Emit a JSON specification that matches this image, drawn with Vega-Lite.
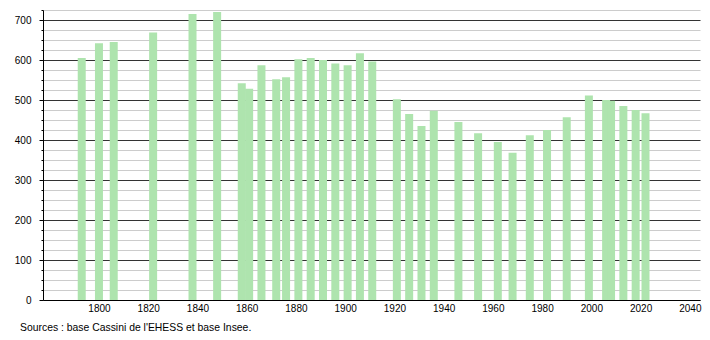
{
  "$schema": "https://vega.github.io/schema/vega-lite/v6.json",
  "width": 657,
  "height": 290,
  "autosize": {"type": "none"},
  "padding": {"left": 43, "top": 10, "right": 10, "bottom": 40},
  "background": "white",
  "config": {"view": {"stroke": null}, "font": "Liberation Sans"},
  "title": {
    "text": "Sources : base Cassini de l'EHESS et base Insee.",
    "orient": "bottom",
    "anchor": "start",
    "frame": "group",
    "dx": -23,
    "offset": 10,
    "fontSize": 10.4,
    "fontWeight": "normal",
    "color": "#000"
  },
  "data": {
    "values": [
      {"annee": 1793, "population": 605},
      {"annee": 1800, "population": 642},
      {"annee": 1806, "population": 645},
      {"annee": 1822, "population": 669},
      {"annee": 1838, "population": 715},
      {"annee": 1848, "population": 720},
      {"annee": 1858, "population": 542},
      {"annee": 1861, "population": 528},
      {"annee": 1866, "population": 587},
      {"annee": 1872, "population": 552},
      {"annee": 1876, "population": 557},
      {"annee": 1881, "population": 602},
      {"annee": 1886, "population": 605},
      {"annee": 1891, "population": 600},
      {"annee": 1896, "population": 591},
      {"annee": 1901, "population": 587},
      {"annee": 1906, "population": 617},
      {"annee": 1911, "population": 596},
      {"annee": 1921, "population": 502},
      {"annee": 1926, "population": 465},
      {"annee": 1931, "population": 435},
      {"annee": 1936, "population": 473},
      {"annee": 1946, "population": 445},
      {"annee": 1954, "population": 417},
      {"annee": 1962, "population": 395},
      {"annee": 1968, "population": 368},
      {"annee": 1975, "population": 412},
      {"annee": 1982, "population": 425},
      {"annee": 1990, "population": 457},
      {"annee": 1999, "population": 511},
      {"annee": 2006, "population": 500},
      {"annee": 2008, "population": 498},
      {"annee": 2013, "population": 485},
      {"annee": 2018, "population": 475},
      {"annee": 2022, "population": 467}
    ]
  },
  "mark": {"type": "bar", "width": 8, "color": "#aee4ae"},
  "encoding": {
    "x": {
      "field": "annee",
      "type": "quantitative",
      "scale": {"domain": [1779.3, 2042.1], "nice": false, "zero": false},
      "axis": {
        "values": [1800, 1820, 1840, 1860, 1880, 1900, 1920, 1940, 1960, 1980, 2000, 2020, 2040],
        "format": "d",
        "ticks": false,
        "grid": false,
        "labelPadding": 3,
        "labelFlush": false,
        "labelFontSize": 10,
        "labelColor": "#000",
        "domainColor": "#000",
        "title": null
      }
    },
    "y": {
      "field": "population",
      "type": "quantitative",
      "scale": {"domain": [0, 725], "nice": false},
      "axis": {
        "values": [0, 25, 50, 75, 100, 125, 150, 175, 200, 225, 250, 275, 300, 325, 350, 375, 400, 425, 450, 475, 500, 525, 550, 575, 600, 625, 650, 675, 700, 725],
        "labelExpr": "datum.value % 100 === 0 ? datum.label : ''",
        "grid": true,
        "gridColor": {"condition": {"test": "datum.value % 100 === 0", "value": "#333333"}, "value": "#cccccc"},
        "gridOpacity": 1,
        "tickSize": {"condition": {"test": "datum.value % 100 === 0", "value": 4}, "value": 2},
        "tickColor": "#000",
        "labelPadding": 8,
        "labelFontSize": 10,
        "labelColor": "#000",
        "domainColor": "#000",
        "title": null
      }
    }
  }
}
